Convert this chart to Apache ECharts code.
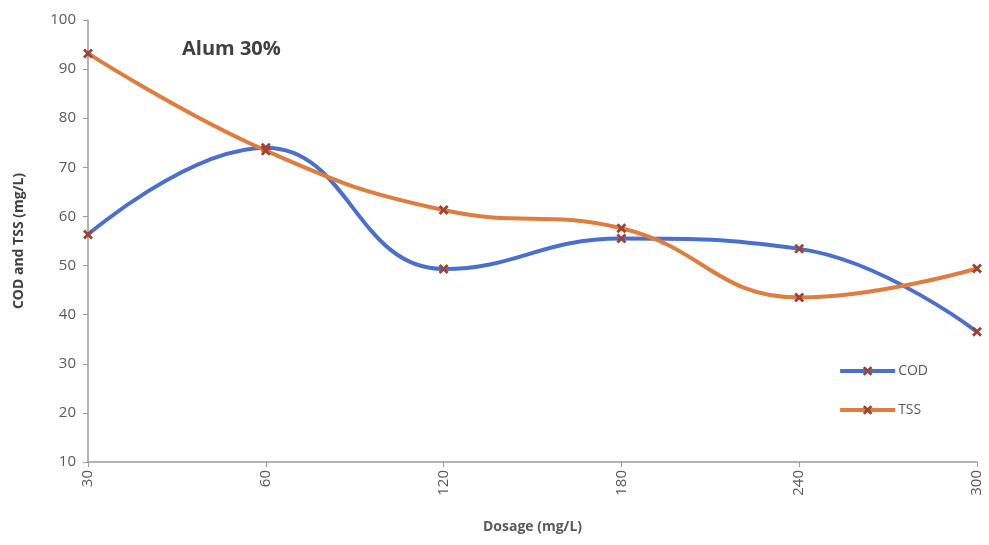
<!DOCTYPE html>
<html>
<head>
<meta charset="utf-8">
<script src="https://cdn.jsdelivr.net/npm/echarts@6/dist/echarts.min.js"></script>
<style>
  html, body { margin: 0; padding: 0; background: #fff; }
  #chart { width: 989px; height: 545px; }
</style>
</head>
<body>
<div id="chart"></div>
<script>
// Dosage levels (mg/L) on the category axis
const dosages = ['30', '60', '120', '180', '240', '300'];
// Residual COD and TSS (mg/L) after coagulation with 30% alum
const codValues = [56.3, 74.0, 49.3, 55.5, 53.4, 36.5];
const tssValues = [93.2, 73.4, 61.3, 57.6, 43.5, 49.4];
const yTicks = { min: 10, max: 100, interval: 10 };

// Cross-shaped marker
const crossMarker = 'path://M0,2L2,0L5,3L8,0L10,2L7,5L10,8L8,10L5,7L2,10L0,8L3,5Z';
const markerColor = '#9a4535';
const codColor = '#4a6fcc';
const tssColor = '#e07d3e';
const fontFamily = '"Open Sans", "Noto Sans", sans-serif';

const chart = echarts.init(document.getElementById('chart'));

function lineSeries(name, data, color) {
  return {
    name: name,
    type: 'line',
    data: data,
    smooth: 0.45,
    symbol: crossMarker,
    symbolSize: 10,
    lineStyle: { color: color, width: 4 },
    itemStyle: { color: markerColor, borderWidth: 0 },
    emphasis: { disabled: true },
    z: name === 'TSS' ? 3 : 2
  };
}

chart.setOption({
  animation: false,
  backgroundColor: '#ffffff',
  title: {
    text: 'Alum 30%',
    left: 177,
    top: 34,
    textStyle: { fontFamily: fontFamily, fontSize: 20, fontWeight: 'bold', color: '#404040' }
  },
  legend: {
    orient: 'vertical',
    right: 56,
    top: 359,
    itemGap: 25,
    itemWidth: 55,
    itemHeight: 12,
    textStyle: { fontFamily: fontFamily, fontSize: 14, color: '#595959', padding: [0, 0, 0, -2] },
    data: [
      { name: 'COD', itemStyle: { color: markerColor }, lineStyle: { color: codColor, width: 4 } },
      { name: 'TSS', itemStyle: { color: markerColor }, lineStyle: { color: tssColor, width: 4 } }
    ]
  },
  grid: { left: 88, right: 12, top: 20, bottom: 83 },
  xAxis: {
    type: 'category',
    data: dosages,
    boundaryGap: false,
    name: 'Dosage (mg/L)',
    nameLocation: 'middle',
    nameGap: 58,
    nameTextStyle: { fontFamily: fontFamily, fontSize: 14, fontWeight: 'bold', color: '#595959' },
    axisLine: { lineStyle: { color: '#9a9a9a', width: 1.5 } },
    axisTick: { show: true, length: 5, lineStyle: { color: '#9a9a9a' } },
    axisLabel: { rotate: 90, fontFamily: fontFamily, fontSize: 15, color: '#595959', margin: 8 },
    splitLine: { show: false }
  },
  yAxis: {
    type: 'value',
    min: yTicks.min,
    max: yTicks.max,
    interval: yTicks.interval,
    name: 'COD and TSS (mg/L)',
    nameLocation: 'middle',
    nameGap: 62,
    nameRotate: 90,
    nameTextStyle: { fontFamily: fontFamily, fontSize: 14, fontWeight: 'bold', color: '#404040' },
    axisLine: { show: true, lineStyle: { color: '#9a9a9a', width: 1.5 } },
    axisTick: { show: true, length: 5, lineStyle: { color: '#9a9a9a' } },
    axisLabel: { fontFamily: fontFamily, fontSize: 15, color: '#595959', margin: 12 },
    splitLine: { show: false }
  },
  series: [
    lineSeries('COD', codValues, codColor),
    lineSeries('TSS', tssValues, tssColor)
  ]
});
</script>
</body>
</html>
